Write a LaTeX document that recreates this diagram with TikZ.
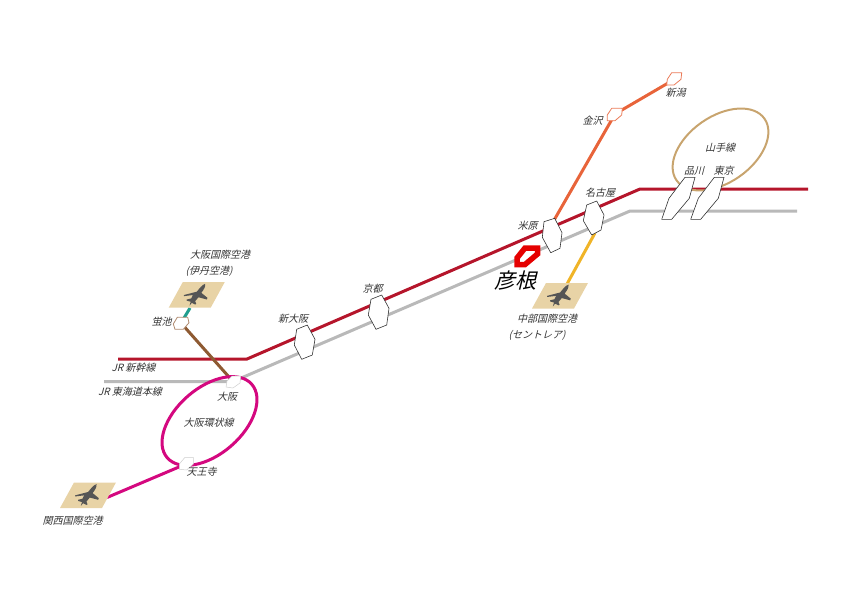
\documentclass[tikz,border=0pt]{standalone}
\usepackage{fontspec}
\newfontfamily\jpfont[FakeSlant=0.25]{Noto Sans CJK JP}
\definecolor{shinkansen}{HTML}{B5152B}
\definecolor{tokaido}{HTML}{B9B9B9}
\definecolor{kanjo}{HTML}{D4087F}
\definecolor{yamanote}{HTML}{C8A46E}
\definecolor{hokuriku}{HTML}{E8643A}
\definecolor{chubu}{HTML}{F0B428}
\definecolor{itami}{HTML}{8E5A32}
\definecolor{monorail}{HTML}{1F9E8E}
\definecolor{apron}{HTML}{E8D3A6}
\definecolor{aeroplanegrey}{HTML}{555555}
\tikzset{
	rail/.style={line width=3pt, line join=miter},
	stn/.style={draw=black!80, fill=white, line width=.6pt, line join=round},
	lbl/.style={font=\jpfont\fontsize{10}{10}\selectfont, text=black!80, inner sep=0pt},
	aeroplane/.pic={
		\fill[apron] (-13,-14.5) -- (29,-14.5) -- (15,11) -- (-27,11) -- cycle;
		\fill[aeroplanegrey, scale=1.12] (8.5,-11.5) .. controls (9,-9) and (7,-6) .. (5,-3.5) -- (10.5,1) -- (10,2.5) -- (2.5,.5) -- (-.5,4) -- (.5,6.5) -- (-.5,7) -- (-3.5,5.5) -- (-5.5,8) -- (-4.5,4.5) -- (-8,3.5) -- (-8,2.5) -- (-4,1.5) -- (-2.5,-1.5) -- (-10.5,-.5) -- (-10.5,-1.5) -- (1,-4.5) .. controls (3,-7) and (6,-11) .. cycle;
	}
}
\begin{document}
\begin{tikzpicture}[x=1pt, y=-1pt]
	\useasboundingbox (0,0) rectangle (842,595);
	% points on the lines
	\coordinate (sk0) at (118,359);
	\coordinate (sk1) at (247,359);
	\coordinate (sk2) at (640,189);
	\coordinate (sk3) at (808,189);
	\coordinate (td0) at (104,381.5);
	\coordinate (osaka) at (233,381.5);
	\coordinate (td2) at (630,211);
	\coordinate (td3) at (797,211);
	\coordinate (hotaru) at (181,323);
	\coordinate (itamiair) at (190,308);
	\coordinate (tennoji) at (186,464);
	\coordinate (kansaiair) at (107,497.5);
	\coordinate (maibara) at (553,222);
	\coordinate (kanazawa) at (615,114);
	\coordinate (niigata) at (675,79);
	\coordinate (nagoya) at (595,233);
	\coordinate (chubuair) at (567,284);
	% lines
	\draw[rail, tokaido] (td0) -- (osaka) -- (td2) -- (td3);
	\draw[rail, shinkansen] (sk0) -- (sk1) -- (sk2) -- (sk3);
	\draw[rail, itami] (hotaru) -- (osaka);
	\draw[rail, monorail] (hotaru) -- (itamiair);
	\draw[rail, kanjo] (tennoji) -- (kansaiair);
	\draw[rail, hokuriku] (maibara) -- (kanazawa) -- (niigata);
	\draw[rail, chubu] (nagoya) -- (chubuair);
	\draw[rail, kanjo, rotate around={41:(209.5,421)}] (209.5,421) ellipse [x radius=56, y radius=33];
	\draw[line width=2pt, yamanote, rotate around={35:(720.5,149.5)}] (720.5,149.5) ellipse [x radius=53.7, y radius=33];
	% airports
	\pic at (195.7,296.7) {aeroplane};
	\pic at (87,497) {aeroplane};
	\pic at (559,297.5) {aeroplane};
	% stations
	\draw[stn, draw=tokaido!70, line width=.5pt] (232,376) -- (240.7,376) -- (240,383) -- (233,388) -- (226,387) -- (227,381) -- cycle;
	\draw[stn, draw=tokaido!70, line width=.5pt] (185,457.3) -- (193.3,457.3) -- (193.3,464) -- (186.7,470) -- (179.3,469.3) -- (179.3,464) -- cycle;
	\draw[stn, draw=itami!70, line width=.8pt] (177.3,317.3) -- (187.7,317.3) -- (189,322.7) -- (183.3,329.3) -- (175,329.3) -- (173.3,324) -- cycle;
	\draw[stn, draw=hokuriku!85, line width=.8pt] (611.7,108.3) -- (622.3,108.3) -- (621.7,115) -- (615,120.7) -- (607.3,120.7) -- (607.3,115) -- cycle;
	\draw[stn, draw=hokuriku!85, line width=.8pt] (671.7,72.7) -- (681.7,72.7) -- (681,79.3) -- (674,85) -- (666.7,85) -- (667.3,79.3) -- cycle;
	\draw[stn] (296.7,329.3) -- (307.3,325) -- (315,339.3) -- (312.3,355) -- (301.7,359.3) -- (294.3,345) -- cycle;
	\draw[stn] (371,299.3) -- (381.7,295) -- (389,308.3) -- (386.7,325) -- (376,329.3) -- (368.3,315) -- cycle;
	\draw[stn] (544,221.7) -- (554.7,218.3) -- (562,232.7) -- (560,248.3) -- (550.7,252.7) -- (542.3,237.3) -- cycle;
	\draw[stn] (586.7,205) -- (596.7,201) -- (604,215) -- (601,230) -- (591.7,235) -- (583.3,220.7) -- cycle;
	\draw[stn] (685,177.3) -- (695,177.3) -- (689.3,198.3) -- (671.7,219.3) -- (661.7,219.3) -- (669,198.3) -- cycle;
	\draw[stn] (714.3,177.3) -- (724,177.3) -- (718.3,198.3) -- (700.7,219.3) -- (690.7,219.3) -- (698.3,198.3) -- cycle;
	\draw[fill=white, draw=red!90!black, line width=5.5pt, line join=miter] (525,248) -- (537.5,248) -- (537.5,254) -- (525,264.5) -- (517,264.5) -- (517,258) -- cycle;
	% labels
	\node[lbl] (l_itami) at (220,255) {大阪国際空港};
	\node[lbl] (l_itami2) at (209,271) {(伊丹空港)};
	\node[lbl] (l_hotaru) at (161.5,322) {蛍池};
	\node[lbl] (l_sk) at (133.5,368) {JR 新幹線};
	\node[lbl] (l_td) at (130,391.5) {JR 東海道本線};
	\node[lbl] (l_osaka) at (227,397) {大阪};
	\node[lbl] (l_kanjo) at (208.5,423) {大阪環状線};
	\node[lbl] (l_tennoji) at (201.5,472) {天王寺};
	\node[lbl] (l_kansai) at (72.5,521) {関西国際空港};
	\node[lbl] (l_shinosaka) at (293,319) {新大阪};
	\node[lbl] (l_kyoto) at (372.5,289) {京都};
	\node[lbl] (l_maibara) at (527.5,226) {米原};
	\node[lbl] (l_nagoya) at (600,193) {名古屋};
	\node[lbl, font=\jpfont\fontsize{21}{22}\selectfont, text=black] (l_hikone) at (515.5,281) {彦根};
	\node[lbl] (l_chubu) at (547,319) {中部国際空港};
	\node[lbl] (l_chubu2) at (537,335) {(セントレア)};
	\node[lbl] (l_kanazawa) at (592.5,121) {金沢};
	\node[lbl] (l_niigata) at (675.5,93) {新潟};
	\node[lbl] (l_yamanote) at (720,148) {山手線};
	\node[lbl] (l_shinagawa) at (694,171) {品川};
	\node[lbl] (l_tokyo) at (723.5,171) {東京};
\end{tikzpicture}
\end{document}
